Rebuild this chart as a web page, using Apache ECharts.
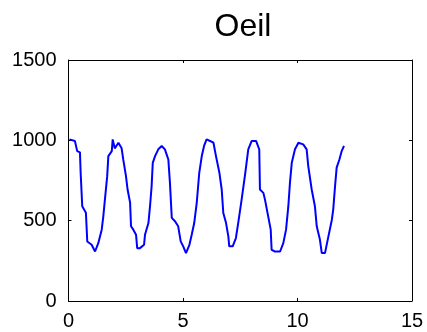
<!DOCTYPE html>
<html>
<head>
<meta charset="utf-8">
<script src="https://cdn.jsdelivr.net/npm/echarts@6/dist/echarts.min.js"></script>
<style>
html, body { margin: 0; padding: 0; background: #fff; }
#root { width: 427px; height: 332px; }
</style>
</head>
<body>
<div id="root"></div>
<script>
// time (s) and signal
const timeVals = [0.04, 0.28, 0.38, 0.5, 0.53, 0.6, 0.76, 0.82, 1.01, 1.16, 1.3, 1.45, 1.52, 1.59, 1.69, 1.74, 1.89, 1.93, 2.02, 2.18, 2.32, 2.39, 2.51, 2.58, 2.69, 2.73, 2.83, 2.95, 3.0, 3.12, 3.3, 3.34, 3.49, 3.56, 3.63, 3.68, 3.78, 3.92, 4.07, 4.21, 4.36, 4.43, 4.51, 4.65, 4.79, 4.9, 5.01, 5.13, 5.28, 5.38, 5.49, 5.6, 5.71, 5.82, 5.92, 6.03, 6.18, 6.33, 6.44, 6.59, 6.69, 6.76, 6.88, 6.98, 7.02, 7.17, 7.31, 7.41, 7.56, 7.71, 7.85, 8.0, 8.19, 8.33, 8.36, 8.51, 8.58, 8.72, 8.83, 8.87, 9.02, 9.24, 9.38, 9.5, 9.6, 9.67, 9.75, 9.89, 10.04, 10.25, 10.4, 10.47, 10.62, 10.76, 10.84, 10.98, 11.06, 11.2, 11.35, 11.5, 11.56, 11.64, 11.71, 11.83, 11.93, 12.03];
const oeilVals = [1006, 996, 933, 925, 800, 590, 550, 370, 350, 308, 360, 444, 527, 631, 777, 902, 933, 1006, 950, 985, 950, 881, 777, 694, 612, 465, 444, 412, 329, 329, 350, 412, 485, 590, 715, 860, 902, 944, 965, 944, 881, 735, 517, 496, 465, 371, 340, 298, 350, 412, 485, 610, 798, 902, 965, 1006, 996, 985, 902, 798, 694, 548, 485, 402, 340, 340, 392, 485, 631, 787, 944, 996, 996, 944, 694, 673, 631, 527, 444, 319, 308, 308, 360, 444, 590, 735, 860, 944, 985, 975, 944, 840, 694, 590, 465, 381, 298, 298, 402, 506, 569, 715, 830, 881, 933, 965];
const xTicks = [0, 5, 10, 15];
const yTicks = [0, 500, 1000, 1500];

const points = timeVals.map((t, i) => [t, oeilVals[i]]);
const font = 'Liberation Sans, Arial, sans-serif';
const axisLine = { show: true, onZero: false, lineStyle: { color: '#000', width: 1 } };
const inTick = { show: true, inside: true, length: 3, lineStyle: { color: '#000' } };
const plain = v => String(v);

const chart = echarts.init(document.getElementById('root'));
chart.setOption({
  animation: false,
  title: {
    text: 'Oeil',
    left: 238,
    textAlign: 'center',
    top: 6,
    textStyle: { fontFamily: font, fontSize: 32, fontWeight: 'normal', color: '#000' }
  },
  grid: { left: 68.5, right: 15, top: 60, bottom: 31 },
  xAxis: [
    {
      type: 'value', min: xTicks[0], max: xTicks[xTicks.length - 1], interval: 5,
      axisLine: axisLine, axisTick: inTick, splitLine: { show: false },
      axisLabel: { fontFamily: font, fontSize: 20, color: '#000', margin: 10, formatter: plain }
    },
    {
      type: 'value', position: 'top', min: xTicks[0], max: xTicks[xTicks.length - 1], interval: 5,
      axisLine: axisLine, axisTick: inTick, splitLine: { show: false },
      axisLabel: { show: false }
    }
  ],
  yAxis: [
    {
      type: 'value', min: yTicks[0], max: yTicks[yTicks.length - 1], interval: 500,
      axisLine: axisLine, axisTick: inTick, splitLine: { show: false },
      axisLabel: { fontFamily: font, fontSize: 20, color: '#000', margin: 12, formatter: plain }
    },
    {
      type: 'value', position: 'right', min: yTicks[0], max: yTicks[yTicks.length - 1], interval: 500,
      axisLine: axisLine, axisTick: inTick, splitLine: { show: false },
      axisLabel: { show: false }
    }
  ],
  series: [{
    type: 'line',
    data: points,
    showSymbol: false,
    lineStyle: { color: '#0000ff', width: 2 },
    xAxisIndex: 0,
    yAxisIndex: 0
  }]
});
</script>
</body>
</html>
